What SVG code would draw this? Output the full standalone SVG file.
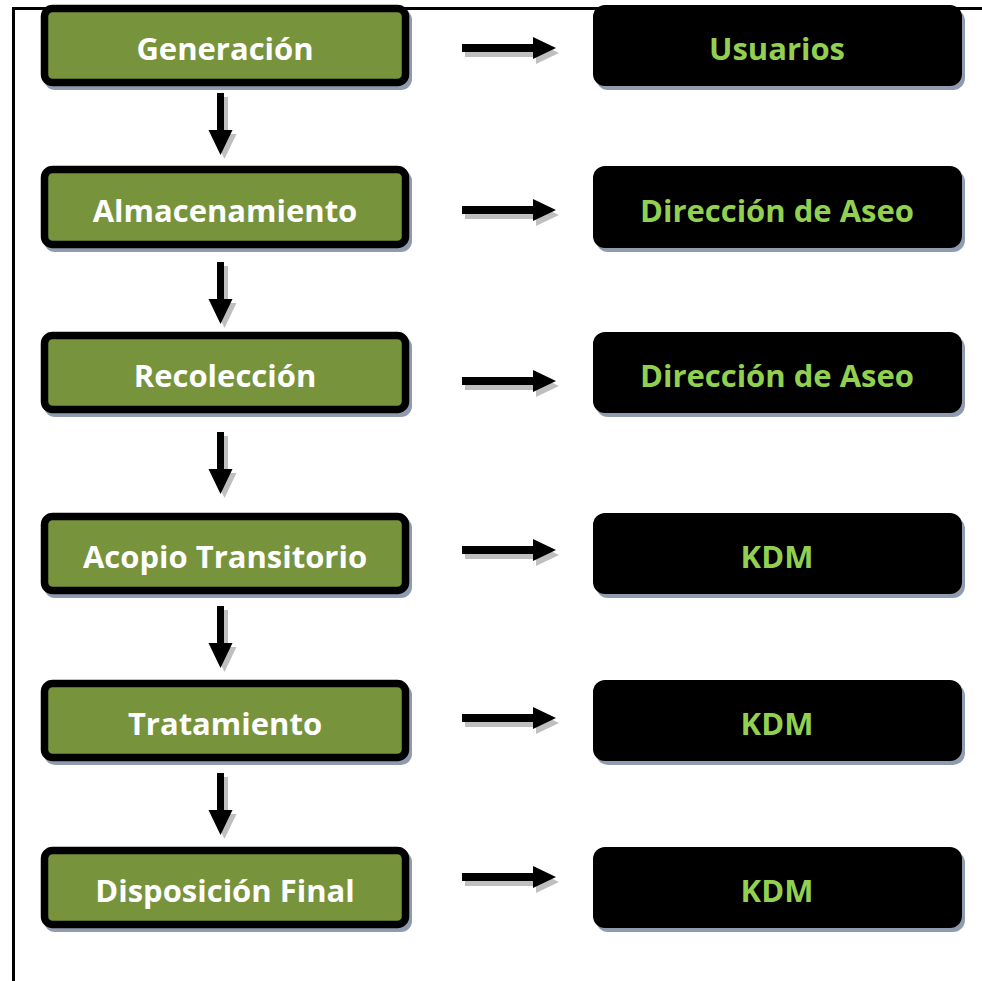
<svg xmlns="http://www.w3.org/2000/svg" width="982" height="981" viewBox="0 0 982 981">
<style>
.frame{fill:none;stroke:#000;stroke-width:3}
.sh{fill:#8f9cb0}
.gbox{fill:#77933c;stroke:#000;stroke-width:7.5}
.bbox{fill:#000}
.ash{fill:#bfbfbf}
.arr{fill:#000}
.t{font-family:"Open Sans","Liberation Sans",sans-serif;font-weight:bold;font-size:31px;text-anchor:middle}
.tw{fill:#fff}
.tg{fill:#92d050}
</style>
<defs>
<path id="down" d="M-3.5,0 h7 v37 h8.5 l-12,25 l-12,-25 h8.5 z"/>
<path id="right" d="M0,-4 h71 v-7 l23,11 l-23,11 v-7 h-71 z"/>
</defs>
<rect width="982" height="981" fill="#fff"/>
<path class="frame" d="M13.5,981 V8.5 H982"/>

<g id="connectors">
<g transform="translate(224.5,97)"><use href="#down" class="ash"/></g><use href="#down" class="arr" x="220.5" y="93"/>
<g transform="translate(224.5,266)"><use href="#down" class="ash"/></g><use href="#down" class="arr" x="220.5" y="262"/>
<g transform="translate(224.5,436)"><use href="#down" class="ash"/></g><use href="#down" class="arr" x="220.5" y="432"/>
<g transform="translate(224.5,610)"><use href="#down" class="ash"/></g><use href="#down" class="arr" x="220.5" y="606"/>
<g transform="translate(224.5,777)"><use href="#down" class="ash"/></g><use href="#down" class="arr" x="220.5" y="773"/>

<use href="#right" class="ash" x="465" y="53"/><use href="#right" class="arr" x="462" y="48"/>
<use href="#right" class="ash" x="465" y="215"/><use href="#right" class="arr" x="462" y="210"/>
<use href="#right" class="ash" x="465" y="386"/><use href="#right" class="arr" x="462" y="381"/>
<use href="#right" class="ash" x="465" y="555"/><use href="#right" class="arr" x="462" y="550"/>
<use href="#right" class="ash" x="465" y="723"/><use href="#right" class="arr" x="462" y="718"/>
<use href="#right" class="ash" x="465" y="882"/><use href="#right" class="arr" x="462" y="877"/>
</g>

<g id="n-generacion"><rect class="sh" x="44" y="9" width="368" height="81" rx="11"/><rect class="gbox" x="44.5" y="8.5" width="361" height="74" rx="8"/><text class="t tw" x="225" y="60">Generación</text></g>
<g id="n-usuarios"><rect class="sh" x="596" y="9" width="369" height="81" rx="12"/><rect class="bbox" x="593" y="5" width="369" height="81" rx="12"/><text class="t tg" x="777" y="60">Usuarios</text></g>

<g id="n-almacenamiento"><rect class="sh" x="44" y="170" width="368" height="82" rx="11"/><rect class="gbox" x="44.5" y="169.5" width="361" height="75" rx="8"/><text class="t tw" x="225" y="222">Almacenamiento</text></g>
<g id="n-direccion1"><rect class="sh" x="596" y="170" width="369" height="82" rx="12"/><rect class="bbox" x="593" y="166" width="369" height="82" rx="12"/><text class="t tg" x="777" y="222">Dirección de Aseo</text></g>

<g id="n-recoleccion"><rect class="sh" x="44" y="336" width="368" height="81" rx="11"/><rect class="gbox" x="44.5" y="335.5" width="361" height="74" rx="8"/><text class="t tw" x="225" y="387">Recolección</text></g>
<g id="n-direccion2"><rect class="sh" x="596" y="336" width="369" height="81" rx="12"/><rect class="bbox" x="593" y="332" width="369" height="81" rx="12"/><text class="t tg" x="777" y="387">Dirección de Aseo</text></g>

<g id="n-acopio"><rect class="sh" x="44" y="517" width="368" height="81" rx="11"/><rect class="gbox" x="44.5" y="516.5" width="361" height="74" rx="8"/><text class="t tw" x="225" y="568">Acopio Transitorio</text></g>
<g id="n-kdm1"><rect class="sh" x="596" y="517" width="369" height="81" rx="12"/><rect class="bbox" x="593" y="513" width="369" height="81" rx="12"/><text class="t tg" x="777" y="568">KDM</text></g>

<g id="n-tratamiento"><rect class="sh" x="44" y="684" width="368" height="81" rx="11"/><rect class="gbox" x="44.5" y="683.5" width="361" height="74" rx="8"/><text class="t tw" x="225" y="735">Tratamiento</text></g>
<g id="n-kdm2"><rect class="sh" x="596" y="684" width="369" height="81" rx="12"/><rect class="bbox" x="593" y="680" width="369" height="81" rx="12"/><text class="t tg" x="777" y="735">KDM</text></g>

<g id="n-disposicion"><rect class="sh" x="44" y="851" width="368" height="81" rx="11"/><rect class="gbox" x="44.5" y="850.5" width="361" height="74" rx="8"/><text class="t tw" x="225" y="902">Disposición Final</text></g>
<g id="n-kdm3"><rect class="sh" x="596" y="851" width="369" height="81" rx="12"/><rect class="bbox" x="593" y="847" width="369" height="81" rx="12"/><text class="t tg" x="777" y="902">KDM</text></g>
</svg>
